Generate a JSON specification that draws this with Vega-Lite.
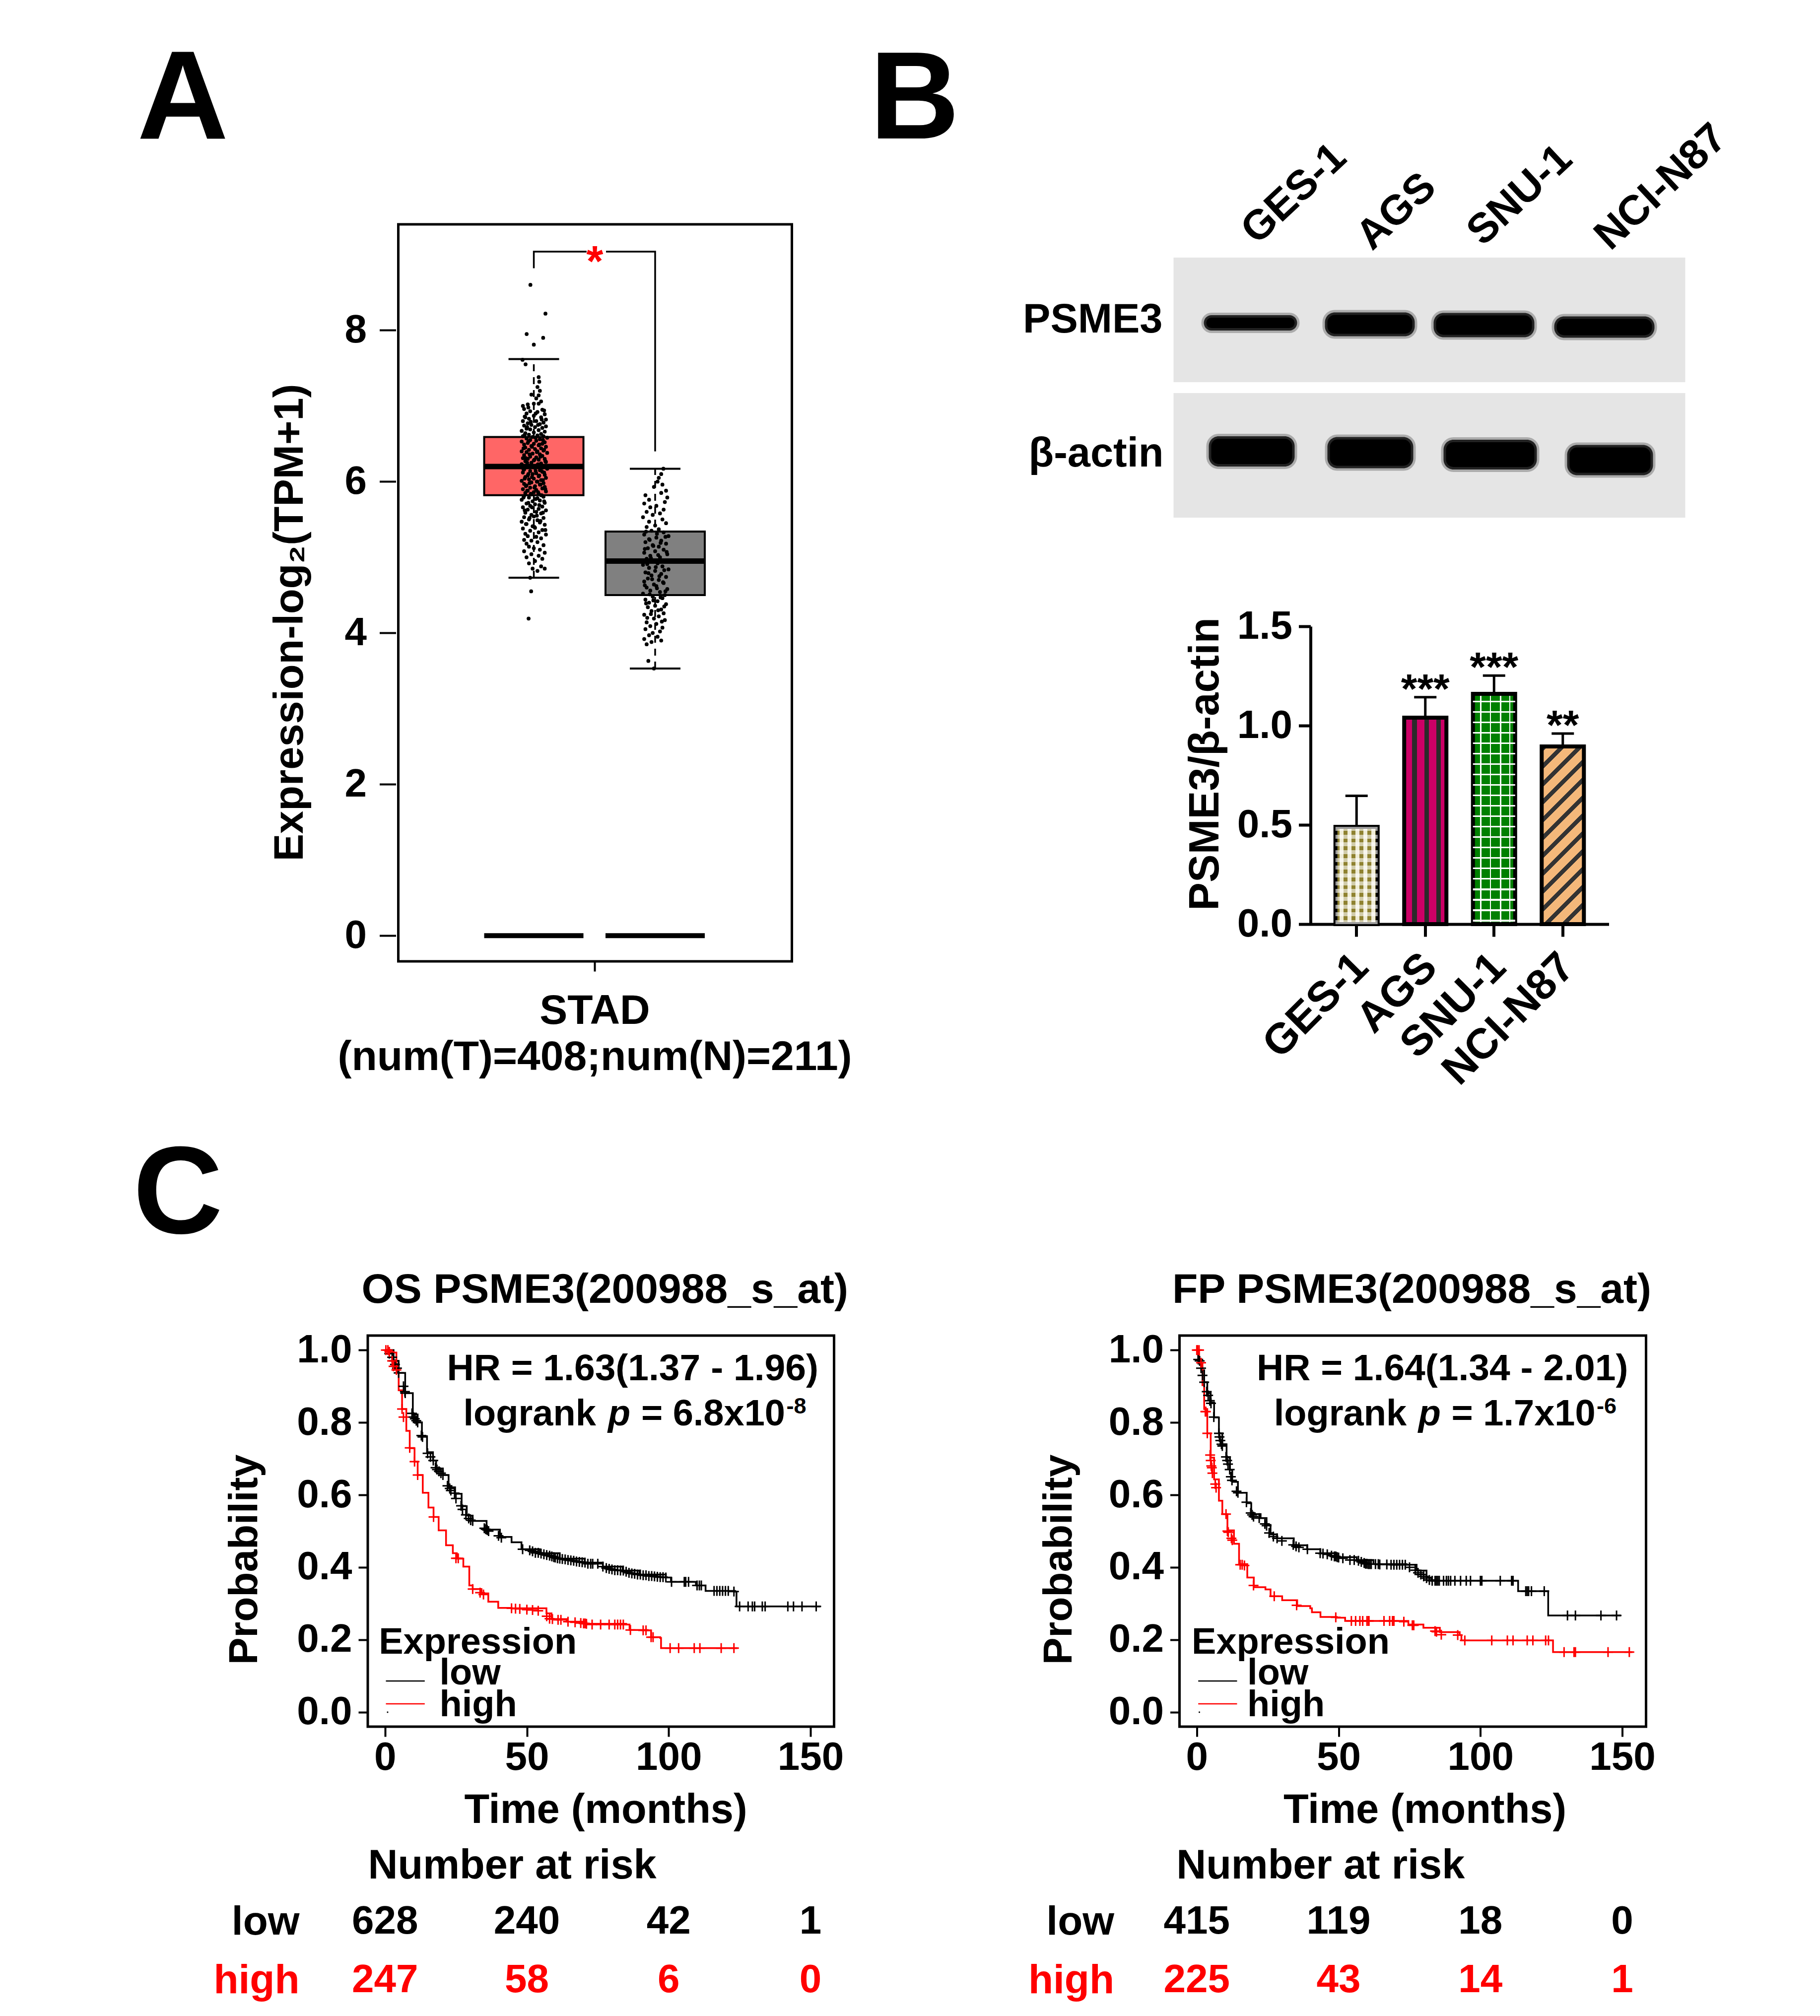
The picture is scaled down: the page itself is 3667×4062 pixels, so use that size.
{"$schema":"https://vega.github.io/schema/vega-lite/v6.json","padding":{"left":265,"top":75,"right":0,"bottom":0},"background":"white",
"config":{"font":"Liberation Sans","view":{"stroke":null},"axis":{"grid":false,"labelFont":"Liberation Sans","titleFont":"Liberation Sans","labelFontWeight":"bold","titleFontWeight":"bold","labelColor":"#000","titleColor":"#000","tickColor":"#000","domainColor":"#000","labelFontSize":80,"titleFontSize":82,"labelLimit":2000,"titleLimit":3000,"labelOverlap":false,"labelFlush":false,"labelBound":false,"titleBaseline":"alphabetic"},"text":{"fontWeight":"bold","font":"Liberation Sans","color":"#000"}},
"resolve":{"scale":{"color":"independent"}},
"datasets":{
"boxes":[{"g":"T","x":1,"lo":4.73,"q1":5.82,"med":6.2,"q3":6.59,"hi":7.62},{"g":"N","x":2,"lo":3.53,"q1":4.5,"med":4.95,"q3":5.34,"hi":6.17}],
"zeros":[{"g":"T","x":1,"v":0},{"g":"N","x":2,"v":0}],
"bracket":[{"part":"a","ord":1,"x":1,"v":8.82},{"part":"a","ord":2,"x":1,"v":9.04},{"part":"a","ord":3,"x":1.435,"v":9.04},{"part":"b","ord":1,"x":1.595,"v":9.04},{"part":"b","ord":2,"x":2,"v":9.04},{"part":"b","ord":3,"x":2,"v":6.4}],
"tumor":[{"x":0.972,"v":8.6},{"x":1.096,"v":8.22},{"x":0.941,"v":7.95},{"x":1.077,"v":7.9},{"x":1.0,"v":7.81},{"x":0.907,"v":7.61},{"x":0.932,"v":7.55},{"x":0.957,"v":4.19},{"x":0.978,"v":4.55},{"x":1.09,"v":4.85},{"x":1.04,"v":7.38},{"x":1.045,"v":7.32},{"x":1.03,"v":7.25},{"x":1.05,"v":7.2},{"x":0.98,"v":7.15},{"x":1.04,"v":7.14},{"x":1.02,"v":7.1},{"x":1.06,"v":7.06},{"x":1.0,"v":7.03},{"x":0.91,"v":7.0},{"x":1.04,"v":7.03},{"x":0.95,"v":7.02},{"x":0.92,"v":6.96},{"x":1.07,"v":6.95},{"x":0.97,"v":6.93},{"x":1.03,"v":6.92},{"x":0.94,"v":6.9},{"x":1.09,"v":6.89},{"x":1.0,"v":6.87},{"x":0.93,"v":6.85},{"x":1.06,"v":6.85},{"x":0.96,"v":6.83},{"x":1.1,"v":6.82},{"x":0.91,"v":6.8},{"x":1.02,"v":6.8},{"x":1.08,"v":6.78},{"x":0.95,"v":6.77},{"x":1.05,"v":6.76},{"x":0.98,"v":6.75},{"x":0.92,"v":6.74},{"x":1.1,"v":6.73},{"x":1.01,"v":6.72},{"x":1.07,"v":6.71},{"x":0.94,"v":6.7},{"x":0.97,"v":6.69},{"x":1.04,"v":6.68},{"x":0.9,"v":6.67},{"x":1.09,"v":6.66},{"x":1.0,"v":6.65},{"x":0.93,"v":6.64},{"x":1.06,"v":6.63},{"x":0.96,"v":6.62},{"x":1.03,"v":6.61},{"x":0.91,"v":6.6},{"x":1.08,"v":6.6},{"x":0.99,"v":6.59},{"x":1.11,"v":6.58},{"x":0.94,"v":6.57},{"x":1.05,"v":6.56},{"x":0.97,"v":6.55},{"x":1.02,"v":6.54},{"x":0.9,"v":6.53},{"x":1.09,"v":6.52},{"x":0.95,"v":6.51},{"x":1.07,"v":6.5},{"x":1.0,"v":6.5},{"x":0.92,"v":6.49},{"x":1.04,"v":6.48},{"x":0.98,"v":6.47},{"x":1.1,"v":6.46},{"x":0.93,"v":6.45},{"x":1.06,"v":6.44},{"x":1.01,"v":6.43},{"x":0.96,"v":6.42},{"x":1.08,"v":6.41},{"x":0.9,"v":6.4},{"x":1.03,"v":6.4},{"x":0.94,"v":6.39},{"x":1.11,"v":6.38},{"x":0.99,"v":6.37},{"x":1.05,"v":6.36},{"x":0.92,"v":6.35},{"x":1.07,"v":6.34},{"x":0.97,"v":6.33},{"x":1.02,"v":6.32},{"x":0.91,"v":6.31},{"x":1.09,"v":6.3},{"x":0.95,"v":6.3},{"x":1.04,"v":6.29},{"x":1.0,"v":6.28},{"x":0.93,"v":6.27},{"x":1.1,"v":6.26},{"x":0.98,"v":6.25},{"x":1.06,"v":6.24},{"x":0.9,"v":6.23},{"x":1.03,"v":6.22},{"x":0.96,"v":6.21},{"x":1.08,"v":6.2},{"x":0.94,"v":6.19},{"x":1.01,"v":6.18},{"x":1.11,"v":6.17},{"x":0.92,"v":6.16},{"x":1.05,"v":6.15},{"x":0.97,"v":6.14},{"x":1.07,"v":6.13},{"x":0.91,"v":6.12},{"x":1.02,"v":6.11},{"x":0.99,"v":6.1},{"x":1.09,"v":6.09},{"x":0.95,"v":6.08},{"x":1.04,"v":6.07},{"x":0.93,"v":6.06},{"x":1.1,"v":6.05},{"x":1.0,"v":6.04},{"x":0.96,"v":6.03},{"x":1.06,"v":6.02},{"x":0.9,"v":6.01},{"x":1.03,"v":6.0},{"x":0.98,"v":5.99},{"x":1.08,"v":5.98},{"x":0.92,"v":5.97},{"x":1.05,"v":5.96},{"x":0.94,"v":5.95},{"x":1.01,"v":5.94},{"x":1.09,"v":5.93},{"x":0.97,"v":5.92},{"x":1.07,"v":5.91},{"x":0.91,"v":5.9},{"x":1.02,"v":5.89},{"x":0.95,"v":5.88},{"x":1.1,"v":5.87},{"x":1.0,"v":5.86},{"x":0.93,"v":5.85},{"x":1.04,"v":5.84},{"x":0.98,"v":5.83},{"x":1.06,"v":5.82},{"x":0.92,"v":5.81},{"x":1.08,"v":5.8},{"x":0.96,"v":5.79},{"x":1.03,"v":5.78},{"x":0.9,"v":5.76},{"x":1.05,"v":5.75},{"x":0.99,"v":5.74},{"x":1.09,"v":5.72},{"x":0.94,"v":5.71},{"x":1.01,"v":5.7},{"x":0.97,"v":5.68},{"x":1.07,"v":5.67},{"x":0.91,"v":5.66},{"x":1.04,"v":5.64},{"x":0.95,"v":5.63},{"x":1.1,"v":5.62},{"x":1.02,"v":5.6},{"x":0.93,"v":5.59},{"x":1.06,"v":5.58},{"x":0.98,"v":5.56},{"x":1.0,"v":5.54},{"x":0.92,"v":5.53},{"x":1.08,"v":5.52},{"x":0.96,"v":5.5},{"x":1.03,"v":5.49},{"x":0.9,"v":5.47},{"x":1.05,"v":5.46},{"x":0.94,"v":5.44},{"x":1.09,"v":5.43},{"x":0.99,"v":5.41},{"x":1.01,"v":5.39},{"x":0.91,"v":5.38},{"x":1.07,"v":5.36},{"x":0.97,"v":5.35},{"x":1.04,"v":5.33},{"x":0.93,"v":5.31},{"x":1.1,"v":5.3},{"x":0.95,"v":5.28},{"x":1.02,"v":5.27},{"x":1.06,"v":5.25},{"x":0.92,"v":5.23},{"x":0.98,"v":5.22},{"x":1.03,"v":5.2},{"x":0.94,"v":5.18},{"x":1.08,"v":5.16},{"x":0.96,"v":5.14},{"x":1.0,"v":5.12},{"x":1.05,"v":5.1},{"x":0.92,"v":5.08},{"x":1.09,"v":5.06},{"x":0.98,"v":5.04},{"x":1.04,"v":5.02},{"x":0.94,"v":5.0},{"x":1.07,"v":4.98},{"x":1.01,"v":4.95},{"x":0.96,"v":4.92},{"x":1.06,"v":4.88},{"x":0.99,"v":4.85},{"x":1.03,"v":4.82},{"x":0.97,"v":4.73},{"x":0.925,"v":6.62},{"x":1.015,"v":6.58},{"x":1.075,"v":6.55},{"x":0.955,"v":6.53},{"x":1.045,"v":6.49},{"x":0.985,"v":6.46},{"x":0.915,"v":6.44},{"x":1.085,"v":6.42},{"x":1.025,"v":6.39},{"x":0.965,"v":6.36},{"x":1.055,"v":6.33},{"x":0.935,"v":6.31},{"x":1.005,"v":6.29},{"x":1.095,"v":6.27},{"x":0.945,"v":6.25},{"x":1.035,"v":6.23},{"x":0.975,"v":6.21},{"x":1.065,"v":6.18},{"x":0.915,"v":6.16},{"x":1.015,"v":6.14},{"x":1.085,"v":6.12},{"x":0.955,"v":6.1},{"x":1.045,"v":6.08},{"x":0.985,"v":6.06},{"x":0.925,"v":6.04},{"x":1.075,"v":6.02},{"x":1.025,"v":6.0},{"x":0.965,"v":5.98},{"x":1.055,"v":5.96},{"x":0.935,"v":5.94},{"x":1.005,"v":5.92},{"x":1.095,"v":5.9},{"x":0.945,"v":5.88},{"x":1.035,"v":5.86},{"x":0.975,"v":5.84},{"x":1.065,"v":5.82},{"x":0.915,"v":5.79},{"x":1.015,"v":5.77},{"x":1.085,"v":5.74},{"x":0.955,"v":5.72},{"x":1.045,"v":5.69},{"x":0.985,"v":5.66},{"x":0.925,"v":5.62},{"x":1.075,"v":5.59},{"x":1.025,"v":5.55},{"x":0.965,"v":5.52},{"x":1.055,"v":5.48},{"x":0.935,"v":5.44},{"x":1.005,"v":5.4},{"x":1.095,"v":5.36},{"x":0.945,"v":6.72},{"x":1.035,"v":6.75},{"x":0.975,"v":6.79},{"x":1.065,"v":6.82},{"x":0.925,"v":6.86},{"x":1.015,"v":6.9},{"x":1.085,"v":6.94},{"x":0.955,"v":6.98}],
"normal":[{"x":2.068,"v":6.17},{"x":1.944,"v":3.63},{"x":1.99,"v":3.53},{"x":2.05,"v":6.1},{"x":2.03,"v":6.05},{"x":2.02,"v":6.0},{"x":2.06,"v":5.96},{"x":1.99,"v":5.93},{"x":2.09,"v":5.88},{"x":2.05,"v":5.85},{"x":1.92,"v":5.82},{"x":2.1,"v":5.79},{"x":1.95,"v":5.76},{"x":2.08,"v":5.73},{"x":1.91,"v":5.71},{"x":2.01,"v":5.68},{"x":1.96,"v":5.66},{"x":2.07,"v":5.63},{"x":1.93,"v":5.6},{"x":2.04,"v":5.58},{"x":1.98,"v":5.56},{"x":1.9,"v":5.53},{"x":2.06,"v":5.5},{"x":1.95,"v":5.47},{"x":2.09,"v":5.45},{"x":2.0,"v":5.42},{"x":1.93,"v":5.4},{"x":2.03,"v":5.37},{"x":1.97,"v":5.35},{"x":2.07,"v":5.33},{"x":1.91,"v":5.3},{"x":2.11,"v":5.28},{"x":2.01,"v":5.26},{"x":1.95,"v":5.24},{"x":2.05,"v":5.22},{"x":1.92,"v":5.2},{"x":2.09,"v":5.18},{"x":1.98,"v":5.16},{"x":2.03,"v":5.14},{"x":1.94,"v":5.12},{"x":2.07,"v":5.1},{"x":2.0,"v":5.08},{"x":1.91,"v":5.06},{"x":2.1,"v":5.04},{"x":1.96,"v":5.02},{"x":2.04,"v":5.0},{"x":1.93,"v":4.98},{"x":2.08,"v":4.96},{"x":1.99,"v":4.94},{"x":2.02,"v":4.92},{"x":1.9,"v":4.9},{"x":2.06,"v":4.88},{"x":1.95,"v":4.86},{"x":2.11,"v":4.84},{"x":2.0,"v":4.82},{"x":1.92,"v":4.8},{"x":2.05,"v":4.78},{"x":1.97,"v":4.76},{"x":2.09,"v":4.74},{"x":1.94,"v":4.72},{"x":2.03,"v":4.7},{"x":1.91,"v":4.68},{"x":2.07,"v":4.66},{"x":1.99,"v":4.64},{"x":2.01,"v":4.62},{"x":1.93,"v":4.6},{"x":2.1,"v":4.58},{"x":1.96,"v":4.56},{"x":2.04,"v":4.54},{"x":1.9,"v":4.52},{"x":2.08,"v":4.5},{"x":1.98,"v":4.48},{"x":2.06,"v":4.46},{"x":1.92,"v":4.44},{"x":2.02,"v":4.42},{"x":1.95,"v":4.4},{"x":2.09,"v":4.38},{"x":2.0,"v":4.36},{"x":1.94,"v":4.34},{"x":2.05,"v":4.31},{"x":1.97,"v":4.29},{"x":2.07,"v":4.26},{"x":1.91,"v":4.24},{"x":2.03,"v":4.22},{"x":1.99,"v":4.19},{"x":2.08,"v":4.17},{"x":1.93,"v":4.14},{"x":2.01,"v":4.12},{"x":1.96,"v":4.09},{"x":2.06,"v":4.07},{"x":1.92,"v":4.05},{"x":2.04,"v":4.02},{"x":1.98,"v":4.0},{"x":1.95,"v":3.97},{"x":2.02,"v":3.95},{"x":1.91,"v":3.92},{"x":2.05,"v":3.9},{"x":1.97,"v":3.88},{"x":1.93,"v":3.85},{"x":1.925,"v":5.34},{"x":2.015,"v":5.31},{"x":2.085,"v":5.27},{"x":1.955,"v":5.23},{"x":2.045,"v":5.19},{"x":1.985,"v":5.15},{"x":1.915,"v":5.11},{"x":2.095,"v":5.07},{"x":2.025,"v":5.03},{"x":1.965,"v":4.99},{"x":2.055,"v":4.95},{"x":1.935,"v":4.91},{"x":2.005,"v":4.87},{"x":2.075,"v":4.83},{"x":1.945,"v":4.79},{"x":2.035,"v":4.75},{"x":1.975,"v":4.71},{"x":2.065,"v":4.67},{"x":1.915,"v":4.63},{"x":2.015,"v":4.59},{"x":2.085,"v":4.55},{"x":1.955,"v":4.51},{"x":2.045,"v":4.47},{"x":1.985,"v":4.43},{"x":1.925,"v":4.39},{"x":2.075,"v":4.35},{"x":2.025,"v":4.3},{"x":1.965,"v":4.25},{"x":1.935,"v":4.2},{"x":2.055,"v":4.15}],
"cells":[{"cell":"GES-1","value":0.49,"upper":0.646,"sig":""},{"cell":"AGS","value":1.04,"upper":1.143,"sig":"***"},{"cell":"SNU-1","value":1.16,"upper":1.252,"sig":"***"},{"cell":"NCI-N87","value":0.895,"upper":0.96,"sig":"**"}],
"blots":[{"target":"PSME3","x0":0,"x1":1031,"y0":2,"y1":253},{"target":"β-actin","x0":0,"x1":1031,"y0":275,"y1":526}],
"bands":[{"lane":"GES-1","target":"PSME3","x0":61,"x1":249,"y0":118,"y1":149},{"lane":"AGS","target":"PSME3","x0":305,"x1":486,"y0":112.5,"y1":160.5},{"lane":"SNU-1","target":"PSME3","x0":524,"x1":727,"y0":113.5,"y1":162.5},{"lane":"NCI-N87","target":"PSME3","x0":767,"x1":969,"y0":120.5,"y1":163.5},{"lane":"GES-1","target":"β-actin","x0":71,"x1":244,"y0":362,"y1":423},{"lane":"AGS","target":"β-actin","x0":310,"x1":483,"y0":363.5,"y1":426.5},{"lane":"SNU-1","target":"β-actin","x0":544,"x1":732,"y0":369,"y1":429},{"lane":"NCI-N87","target":"β-actin","x0":793,"x1":966,"y0":379.5,"y1":440.5}],
"lanes":[{"lane":"GES-1","x":168,"y":-22},{"lane":"AGS","x":400,"y":-10},{"lane":"SNU-1","x":623,"y":-19},{"lane":"NCI-N87","x":880,"y":-10}],
"targets":[{"target":"PSME3","x":-22,"y":128},{"target":"β-actin","x":-20,"y":398}],
"osLow":[{"t":0,"p":1},{"t":3,"p":0.97},{"t":4.8,"p":0.937},{"t":7.1,"p":0.881},{"t":9.8,"p":0.822},{"t":11.5,"p":0.8},{"t":13,"p":0.762},{"t":14.8,"p":0.718},{"t":16.9,"p":0.695},{"t":18,"p":0.673},{"t":20.4,"p":0.655},{"t":22.4,"p":0.621},{"t":24.7,"p":0.603},{"t":27,"p":0.569},{"t":28.8,"p":0.543},{"t":30.9,"p":0.528},{"t":35.8,"p":0.504},{"t":40.5,"p":0.484},{"t":44.6,"p":0.469},{"t":48.1,"p":0.45},{"t":54.6,"p":0.439},{"t":61.6,"p":0.424},{"t":70.4,"p":0.413},{"t":76.8,"p":0.402},{"t":83.8,"p":0.391},{"t":89.7,"p":0.38},{"t":99,"p":0.372},{"t":100.8,"p":0.36},{"t":109.6,"p":0.35},{"t":113,"p":0.335},{"t":123.4,"p":0.333},{"t":123.9,"p":0.292},{"t":153.5,"p":0.292}],
"osHigh":[{"t":0,"p":1},{"t":1.9,"p":0.993},{"t":4,"p":0.948},{"t":4.8,"p":0.889},{"t":6,"p":0.837},{"t":7.5,"p":0.777},{"t":8.7,"p":0.729},{"t":10.4,"p":0.692},{"t":11.5,"p":0.655},{"t":13.3,"p":0.606},{"t":15.3,"p":0.565},{"t":17.1,"p":0.539},{"t":18.9,"p":0.502},{"t":21.5,"p":0.461},{"t":23.9,"p":0.439},{"t":25.3,"p":0.424},{"t":27.6,"p":0.402},{"t":29.7,"p":0.35},{"t":30.9,"p":0.34},{"t":34,"p":0.328},{"t":36.4,"p":0.305},{"t":39.9,"p":0.288},{"t":44.6,"p":0.287},{"t":56.9,"p":0.273},{"t":58.7,"p":0.257},{"t":64,"p":0.25},{"t":71,"p":0.244},{"t":85,"p":0.242},{"t":86.2,"p":0.227},{"t":92.6,"p":0.226},{"t":93.8,"p":0.207},{"t":97,"p":0.205},{"t":97.3,"p":0.177},{"t":124.2,"p":0.177}],
"osLowC":[{"t":1.5,"p":0.99},{"t":2.5,"p":0.98},{"t":3,"p":0.97},{"t":3.5,"p":0.96},{"t":4.2,"p":0.95},{"t":4.8,"p":0.937},{"t":6.5,"p":0.9},{"t":7,"p":0.885},{"t":7.1,"p":0.881},{"t":9.5,"p":0.825},{"t":10,"p":0.815},{"t":10.5,"p":0.81},{"t":11,"p":0.805},{"t":11.5,"p":0.8},{"t":12.8,"p":0.764},{"t":13.2,"p":0.76},{"t":15,"p":0.715},{"t":16,"p":0.705},{"t":17,"p":0.695},{"t":17.8,"p":0.675},{"t":18.3,"p":0.67},{"t":19,"p":0.665},{"t":19.7,"p":0.66},{"t":20.4,"p":0.655},{"t":22,"p":0.625},{"t":22.8,"p":0.618},{"t":23.2,"p":0.612},{"t":24.5,"p":0.605},{"t":25,"p":0.59},{"t":26.8,"p":0.57},{"t":27.3,"p":0.56},{"t":28.5,"p":0.545},{"t":29.5,"p":0.535},{"t":30.2,"p":0.53},{"t":30.9,"p":0.528},{"t":35,"p":0.508},{"t":35.5,"p":0.505},{"t":36,"p":0.503},{"t":36.5,"p":0.5},{"t":40,"p":0.487},{"t":41,"p":0.482},{"t":48.5,"p":0.45},{"t":51,"p":0.447},{"t":52,"p":0.444},{"t":53,"p":0.44},{"t":54,"p":0.44},{"t":55,"p":0.438},{"t":56,"p":0.436},{"t":57,"p":0.434},{"t":58,"p":0.432},{"t":58.8,"p":0.43},{"t":59.5,"p":0.428},{"t":60,"p":0.427},{"t":60.8,"p":0.425},{"t":61.6,"p":0.424},{"t":62.5,"p":0.423},{"t":63.5,"p":0.422},{"t":64.5,"p":0.42},{"t":65.5,"p":0.419},{"t":66.5,"p":0.418},{"t":67.5,"p":0.416},{"t":68.5,"p":0.415},{"t":69.5,"p":0.414},{"t":70.5,"p":0.413},{"t":71.5,"p":0.41},{"t":72.5,"p":0.41},{"t":73.2,"p":0.41},{"t":75,"p":0.41},{"t":76.8,"p":0.402},{"t":78,"p":0.398},{"t":79,"p":0.396},{"t":80,"p":0.394},{"t":81,"p":0.392},{"t":82,"p":0.392},{"t":83,"p":0.391},{"t":84,"p":0.391},{"t":85,"p":0.388},{"t":86,"p":0.385},{"t":87,"p":0.383},{"t":88,"p":0.382},{"t":89,"p":0.38},{"t":90,"p":0.38},{"t":91,"p":0.378},{"t":92,"p":0.378},{"t":93,"p":0.376},{"t":94,"p":0.376},{"t":95,"p":0.375},{"t":96,"p":0.374},{"t":97,"p":0.373},{"t":98,"p":0.373},{"t":99,"p":0.372},{"t":101,"p":0.36},{"t":105.5,"p":0.36},{"t":106,"p":0.36},{"t":107,"p":0.36},{"t":110,"p":0.35},{"t":110.8,"p":0.35},{"t":111.5,"p":0.35},{"t":116,"p":0.335},{"t":117,"p":0.335},{"t":118,"p":0.335},{"t":119,"p":0.335},{"t":120,"p":0.335},{"t":121,"p":0.335},{"t":123,"p":0.333},{"t":125,"p":0.292},{"t":128,"p":0.292},{"t":129.5,"p":0.292},{"t":130.3,"p":0.292},{"t":133,"p":0.292},{"t":134,"p":0.292},{"t":142,"p":0.292},{"t":144,"p":0.292},{"t":147,"p":0.292},{"t":152,"p":0.292}],
"osHighC":[{"t":0.3,"p":1},{"t":1,"p":1},{"t":1.5,"p":0.995},{"t":2.5,"p":0.97},{"t":3,"p":0.955},{"t":4,"p":0.945},{"t":6,"p":0.837},{"t":6.5,"p":0.815},{"t":8.7,"p":0.73},{"t":10.4,"p":0.692},{"t":11.5,"p":0.655},{"t":17.1,"p":0.539},{"t":25,"p":0.425},{"t":25.8,"p":0.425},{"t":30.9,"p":0.34},{"t":33.5,"p":0.33},{"t":34.7,"p":0.325},{"t":44.6,"p":0.287},{"t":46,"p":0.286},{"t":47.5,"p":0.285},{"t":50,"p":0.283},{"t":52,"p":0.282},{"t":54,"p":0.28},{"t":57,"p":0.265},{"t":58,"p":0.258},{"t":59,"p":0.257},{"t":61,"p":0.255},{"t":62,"p":0.255},{"t":64.5,"p":0.25},{"t":67,"p":0.248},{"t":69,"p":0.246},{"t":70,"p":0.245},{"t":70.5,"p":0.245},{"t":71,"p":0.244},{"t":73,"p":0.242},{"t":76,"p":0.242},{"t":79,"p":0.242},{"t":81,"p":0.242},{"t":82,"p":0.242},{"t":83,"p":0.242},{"t":84,"p":0.242},{"t":86.5,"p":0.227},{"t":91,"p":0.226},{"t":92,"p":0.226},{"t":93.8,"p":0.207},{"t":94.5,"p":0.207},{"t":100.5,"p":0.177},{"t":103.5,"p":0.177},{"t":109,"p":0.177},{"t":111,"p":0.177},{"t":118.5,"p":0.177},{"t":123,"p":0.177}],
"fpLow":[{"t":0,"p":1},{"t":0.5,"p":0.974},{"t":1.6,"p":0.944},{"t":2.6,"p":0.911},{"t":3.7,"p":0.881},{"t":4.9,"p":0.855},{"t":6.1,"p":0.814},{"t":7.8,"p":0.77},{"t":9,"p":0.74},{"t":10.5,"p":0.703},{"t":11.7,"p":0.669},{"t":12.5,"p":0.636},{"t":14.5,"p":0.606},{"t":17.6,"p":0.577},{"t":19.2,"p":0.547},{"t":22.5,"p":0.536},{"t":24.6,"p":0.517},{"t":26,"p":0.491},{"t":28.3,"p":0.48},{"t":34.2,"p":0.461},{"t":38.9,"p":0.45},{"t":43.6,"p":0.439},{"t":49.4,"p":0.428},{"t":56.4,"p":0.42},{"t":62.3,"p":0.409},{"t":74,"p":0.407},{"t":77.5,"p":0.391},{"t":81,"p":0.372},{"t":82.8,"p":0.363},{"t":113.2,"p":0.363},{"t":113.3,"p":0.334},{"t":123.8,"p":0.334},{"t":123.9,"p":0.267},{"t":149.5,"p":0.267}],
"fpHigh":[{"t":0,"p":1},{"t":0.8,"p":0.963},{"t":2,"p":0.903},{"t":2.6,"p":0.837},{"t":3.7,"p":0.77},{"t":4.9,"p":0.703},{"t":6.1,"p":0.643},{"t":7.8,"p":0.584},{"t":9,"p":0.547},{"t":10.8,"p":0.502},{"t":13.1,"p":0.465},{"t":14.9,"p":0.409},{"t":17.8,"p":0.372},{"t":20.1,"p":0.345},{"t":24.2,"p":0.339},{"t":26,"p":0.32},{"t":30.1,"p":0.309},{"t":35.4,"p":0.293},{"t":40,"p":0.287},{"t":40.6,"p":0.276},{"t":43.6,"p":0.263},{"t":49.4,"p":0.261},{"t":52.3,"p":0.252},{"t":73.4,"p":0.252},{"t":74.6,"p":0.242},{"t":79.9,"p":0.233},{"t":85.7,"p":0.221},{"t":92.7,"p":0.213},{"t":93.3,"p":0.198},{"t":125.5,"p":0.198},{"t":125.6,"p":0.166},{"t":153.6,"p":0.166}],
"fpLowC":[{"t":0.5,"p":0.974},{"t":1,"p":0.97},{"t":1.5,"p":0.95},{"t":2,"p":0.93},{"t":2.6,"p":0.911},{"t":3.5,"p":0.885},{"t":4,"p":0.875},{"t":4.6,"p":0.86},{"t":5,"p":0.853},{"t":6,"p":0.815},{"t":7.8,"p":0.77},{"t":8,"p":0.76},{"t":8.3,"p":0.75},{"t":8.7,"p":0.74},{"t":9,"p":0.735},{"t":10.3,"p":0.705},{"t":10.7,"p":0.695},{"t":11,"p":0.685},{"t":11.6,"p":0.67},{"t":12,"p":0.65},{"t":12.4,"p":0.64},{"t":14,"p":0.61},{"t":14.5,"p":0.606},{"t":17.5,"p":0.58},{"t":19,"p":0.55},{"t":19.5,"p":0.545},{"t":20,"p":0.54},{"t":22,"p":0.536},{"t":24,"p":0.52},{"t":24.6,"p":0.515},{"t":25.5,"p":0.495},{"t":27,"p":0.485},{"t":28.3,"p":0.48},{"t":30,"p":0.473},{"t":34,"p":0.462},{"t":35,"p":0.458},{"t":36,"p":0.455},{"t":39,"p":0.45},{"t":43.5,"p":0.439},{"t":44.5,"p":0.438},{"t":46,"p":0.436},{"t":47.5,"p":0.432},{"t":48.5,"p":0.43},{"t":49,"p":0.43},{"t":49.5,"p":0.428},{"t":50,"p":0.427},{"t":51.5,"p":0.425},{"t":54,"p":0.42},{"t":55.5,"p":0.42},{"t":57,"p":0.418},{"t":58,"p":0.415},{"t":59,"p":0.412},{"t":59.5,"p":0.41},{"t":60,"p":0.41},{"t":60.5,"p":0.409},{"t":61,"p":0.409},{"t":61.5,"p":0.409},{"t":63,"p":0.409},{"t":64,"p":0.409},{"t":64.5,"p":0.408},{"t":67,"p":0.408},{"t":68.5,"p":0.407},{"t":69.5,"p":0.407},{"t":70.5,"p":0.407},{"t":71.5,"p":0.407},{"t":72.5,"p":0.407},{"t":73.5,"p":0.407},{"t":75,"p":0.4},{"t":77,"p":0.392},{"t":78,"p":0.385},{"t":79,"p":0.38},{"t":80,"p":0.375},{"t":81,"p":0.37},{"t":82,"p":0.365},{"t":83,"p":0.363},{"t":84,"p":0.363},{"t":84.5,"p":0.363},{"t":85,"p":0.363},{"t":85.5,"p":0.363},{"t":87,"p":0.363},{"t":88,"p":0.363},{"t":88.7,"p":0.363},{"t":89.5,"p":0.363},{"t":91,"p":0.363},{"t":93,"p":0.363},{"t":95,"p":0.363},{"t":96.5,"p":0.363},{"t":100,"p":0.363},{"t":100.5,"p":0.363},{"t":107,"p":0.363},{"t":111,"p":0.363},{"t":111.5,"p":0.363},{"t":116,"p":0.334},{"t":116.5,"p":0.334},{"t":117,"p":0.334},{"t":118,"p":0.334},{"t":122.5,"p":0.334},{"t":130.7,"p":0.267},{"t":133.5,"p":0.267},{"t":142.5,"p":0.267},{"t":148,"p":0.267}],
"fpHighC":[{"t":0,"p":1},{"t":0.3,"p":1},{"t":0.8,"p":1},{"t":1.5,"p":0.965},{"t":3,"p":0.83},{"t":3.2,"p":0.83},{"t":3.7,"p":0.77},{"t":4.7,"p":0.71},{"t":4.9,"p":0.695},{"t":5.1,"p":0.68},{"t":5.3,"p":0.675},{"t":5.5,"p":0.66},{"t":6.5,"p":0.63},{"t":6.8,"p":0.62},{"t":10.3,"p":0.547},{"t":10.8,"p":0.5},{"t":11.1,"p":0.497},{"t":12.2,"p":0.48},{"t":12.5,"p":0.475},{"t":15.3,"p":0.407},{"t":16,"p":0.407},{"t":16.8,"p":0.405},{"t":20,"p":0.35},{"t":27.3,"p":0.32},{"t":35.2,"p":0.295},{"t":49,"p":0.262},{"t":54.5,"p":0.252},{"t":56,"p":0.252},{"t":57.5,"p":0.252},{"t":58.5,"p":0.252},{"t":60,"p":0.252},{"t":60.5,"p":0.252},{"t":60.7,"p":0.252},{"t":66,"p":0.252},{"t":68,"p":0.252},{"t":69,"p":0.252},{"t":69.5,"p":0.252},{"t":73,"p":0.25},{"t":76,"p":0.24},{"t":76.5,"p":0.24},{"t":84,"p":0.224},{"t":84.5,"p":0.222},{"t":86.2,"p":0.214},{"t":92,"p":0.213},{"t":94.5,"p":0.198},{"t":104,"p":0.198},{"t":109.5,"p":0.198},{"t":111.5,"p":0.198},{"t":116.5,"p":0.198},{"t":118.5,"p":0.198},{"t":123,"p":0.198},{"t":124,"p":0.198},{"t":129.5,"p":0.166},{"t":133,"p":0.166},{"t":133.5,"p":0.166},{"t":145,"p":0.166},{"t":152.5,"p":0.166}],
"osRisk":[{"group":"low","t":0,"n":628},{"group":"low","t":50,"n":240},{"group":"low","t":100,"n":42},{"group":"low","t":150,"n":1},{"group":"high","t":0,"n":247},{"group":"high","t":50,"n":58},{"group":"high","t":100,"n":6},{"group":"high","t":150,"n":0}],
"fpRisk":[{"group":"low","t":0,"n":415},{"group":"low","t":50,"n":119},{"group":"low","t":100,"n":18},{"group":"low","t":150,"n":0},{"group":"high","t":0,"n":225},{"group":"high","t":50,"n":43},{"group":"high","t":100,"n":14},{"group":"high","t":150,"n":1}]
},
"columns":2,"spacing":{"row":0,"column":695.5},"align":"none","bounds":"flush",
"concat":[
{"width":939.5,"height":810,"data":{"values":[{}]},"layer":[
{"mark":{"type":"rect","fillOpacity":0,"stroke":"#000","strokeWidth":5},"encoding":{"x":{"datum":-0.117,"type":"quantitative","scale":{"domain":[-0.117,3.127],"range":[56.5,859.5],"nice":false,"zero":false},"axis":{"values":[1.5],"labels":false,"offset":675,"tickSize":20,"tickWidth":4,"domain":false,"title":["STAD","(num(T)=408;num(N)=211)"],"titleFontSize":84,"titleLineHeight":93,"titleY":125,"titleX":457}},"x2":{"datum":3.127},"y":{"datum":-0.34,"type":"quantitative","scale":{"domain":[-0.34,9.4],"range":[1485,0],"nice":false,"zero":false},"axis":{"values":[0,2,4,6,8],"format":"d","offset":-56.5,"tickSize":33,"tickWidth":4,"domain":false,"labelPadding":26,"title":"Expression-log₂(TPM+1)","titleFontSize":83,"titleX":-188,"titleY":802}},"y2":{"datum":9.4}}},
{"data":{"name":"boxes"},"mark":{"type":"rule","strokeDash":[14,12],"strokeWidth":3.5,"color":"#000"},"encoding":{"x":{"field":"x","type":"quantitative"},"y":{"field":"lo","type":"quantitative"},"y2":{"field":"hi"}}},
{"data":{"name":"boxes"},"mark":{"type":"bar","size":200,"orient":"vertical","stroke":"#000","strokeWidth":4},"encoding":{"x":{"field":"x","type":"quantitative"},"y":{"field":"q1","type":"quantitative"},"y2":{"field":"q3"},"color":{"field":"g","type":"nominal","scale":{"domain":["T","N"],"range":["#FF6666","#808080"]},"legend":null}}},
{"data":{"name":"boxes"},"mark":{"type":"tick","orient":"horizontal","size":200,"thickness":11,"color":"#000","opacity":1},"encoding":{"x":{"field":"x","type":"quantitative"},"y":{"field":"med","type":"quantitative"}}},
{"data":{"name":"boxes"},"mark":{"type":"tick","orient":"horizontal","size":102,"thickness":4,"color":"#000","opacity":1},"encoding":{"x":{"field":"x","type":"quantitative"},"y":{"field":"lo","type":"quantitative"}}},
{"data":{"name":"boxes"},"mark":{"type":"tick","orient":"horizontal","size":102,"thickness":4,"color":"#000","opacity":1},"encoding":{"x":{"field":"x","type":"quantitative"},"y":{"field":"hi","type":"quantitative"}}},
{"data":{"name":"zeros"},"mark":{"type":"tick","orient":"horizontal","size":200,"thickness":10,"color":"#000","opacity":1},"encoding":{"x":{"field":"x","type":"quantitative"},"y":{"field":"v","type":"quantitative"}}},
{"data":{"name":"tumor"},"mark":{"type":"point","filled":true,"size":60,"color":"#000","opacity":1},"encoding":{"x":{"field":"x","type":"quantitative"},"y":{"field":"v","type":"quantitative"}}},
{"data":{"name":"normal"},"mark":{"type":"point","filled":true,"size":60,"color":"#000","opacity":1},"encoding":{"x":{"field":"x","type":"quantitative"},"y":{"field":"v","type":"quantitative"}}},
{"data":{"name":"bracket"},"mark":{"type":"line","color":"#000","strokeWidth":3.5},"encoding":{"x":{"field":"x","type":"quantitative"},"y":{"field":"v","type":"quantitative"},"detail":{"field":"part"},"order":{"field":"ord"}}},
{"mark":{"type":"text","text":"*","fontSize":87,"color":"#f00","align":"center","baseline":"alphabetic"},"encoding":{"x":{"datum":1.503,"type":"quantitative"},"y":{"datum":8.72,"type":"quantitative"}}},
{"mark":{"type":"text","text":"A","fontSize":255,"align":"left","baseline":"alphabetic"},"encoding":{"x":{"datum":-2.27,"type":"quantitative"},"y":{"datum":10.53,"type":"quantitative"}}}
]},
{"width":940,"height":810,"data":{"values":[{}]},"layer":[
{"data":{"name":"blots"},"mark":{"type":"rect","color":"#E5E5E5"},"encoding":{"x":{"field":"x0","type":"quantitative","scale":{"domain":[12,952],"nice":false,"zero":false},"axis":null},"x2":{"field":"x1"},"y":{"field":"y0","type":"quantitative","scale":{"domain":[745,-65],"nice":false,"zero":false},"axis":null},"y2":{"field":"y1"}}},
{"data":{"name":"bands"},"mark":{"type":"rect","color":"#000","opacity":1,"cornerRadius":20,"stroke":"#555","strokeOpacity":0.4,"strokeWidth":10},"encoding":{"x":{"field":"x0","type":"quantitative"},"x2":{"field":"x1"},"y":{"field":"y0","type":"quantitative"},"y2":{"field":"y1"}}},
{"data":{"name":"lanes"},"mark":{"type":"text","fontSize":84,"angle":317,"align":"left","baseline":"alphabetic"},"encoding":{"x":{"field":"x","type":"quantitative"},"y":{"field":"y","type":"quantitative"},"text":{"field":"lane"}}},
{"data":{"name":"targets"},"mark":{"type":"text","fontSize":83,"align":"right","baseline":"middle"},"encoding":{"x":{"field":"x","type":"quantitative"},"y":{"field":"y","type":"quantitative"},"text":{"field":"target"}}},
{"mark":{"type":"text","text":"B","fontSize":250,"align":"left","baseline":"alphabetic"},"encoding":{"x":{"datum":-612,"type":"quantitative"},"y":{"datum":-238,"type":"quantitative"}}}
]},
{"width":1,"height":1,"data":{"values":[]},"mark":"rule","encoding":{}},
{"width":940,"height":600,"data":{"name":"cells"},"encoding":{"x":{"field":"cell","type":"nominal","sort":["GES-1","AGS","SNU-1","NCI-N87"],"scale":{"range":[264,865],"paddingInner":0.386,"paddingOuter":0.3625},"axis":{"title":null,"labelAngle":-45,"labelAlign":"right","labelBaseline":"top","labelPadding":18,"labelOffset":-20,"tickSize":25,"tickWidth":6,"domainWidth":6,"labelFontSize":86}},"y":{"field":"value","type":"quantitative","scale":{"domain":[0,1.5],"nice":false},"axis":{"values":[0,0.5,1,1.5],"format":".1f","offset":-264,"tickSize":24,"tickWidth":6,"domainWidth":6,"labelPadding":13,"title":"PSME3/β-actin","titleFontSize":85,"titleX":-186,"titleY":277}}},"layer":[
{"mark":{"type":"rule","color":"#000","strokeWidth":5},"encoding":{"y":{"field":"value","type":"quantitative"},"y2":{"field":"upper"}}},
{"mark":{"type":"tick","orient":"horizontal","size":45,"thickness":5,"color":"#000","opacity":1},"encoding":{"y":{"field":"upper","type":"quantitative"}}},
{"transform":[{"filter":"datum.cell=='GES-1'"}],"mark":{"type":"bar","stroke":"#000","strokeWidth":8,"fill":{"gradient":"linear","x1":0,"y1":0,"x2":1,"y2":0,"stops":[{"offset":0,"color":"#8F8230"},{"offset":0.094,"color":"#8F8230"},{"offset":0.094,"color":"#EFECD6"},{"offset":0.188,"color":"#EFECD6"},{"offset":0.188,"color":"#8F8230"},{"offset":0.282,"color":"#8F8230"},{"offset":0.282,"color":"#EFECD6"},{"offset":0.376,"color":"#EFECD6"},{"offset":0.376,"color":"#8F8230"},{"offset":0.47,"color":"#8F8230"},{"offset":0.47,"color":"#EFECD6"},{"offset":0.564,"color":"#EFECD6"},{"offset":0.564,"color":"#8F8230"},{"offset":0.658,"color":"#8F8230"},{"offset":0.658,"color":"#EFECD6"},{"offset":0.752,"color":"#EFECD6"},{"offset":0.752,"color":"#8F8230"},{"offset":0.846,"color":"#8F8230"},{"offset":0.846,"color":"#EFECD6"},{"offset":0.94,"color":"#EFECD6"},{"offset":0.94,"color":"#8F8230"},{"offset":1,"color":"#8F8230"}]}}},
{"transform":[{"filter":"datum.cell=='GES-1'"}],"mark":{"type":"bar","stroke":null,"fill":{"gradient":"linear","x1":0,"y1":0,"x2":0,"y2":1,"stops":[{"offset":0,"color":"#fff9"},{"offset":0.04,"color":"#fff9"},{"offset":0.04,"color":"#fff0"},{"offset":0.08,"color":"#fff0"},{"offset":0.08,"color":"#fff9"},{"offset":0.12,"color":"#fff9"},{"offset":0.12,"color":"#fff0"},{"offset":0.16,"color":"#fff0"},{"offset":0.16,"color":"#fff9"},{"offset":0.2,"color":"#fff9"},{"offset":0.2,"color":"#fff0"},{"offset":0.24,"color":"#fff0"},{"offset":0.24,"color":"#fff9"},{"offset":0.28,"color":"#fff9"},{"offset":0.28,"color":"#fff0"},{"offset":0.32,"color":"#fff0"},{"offset":0.32,"color":"#fff9"},{"offset":0.36,"color":"#fff9"},{"offset":0.36,"color":"#fff0"},{"offset":0.4,"color":"#fff0"},{"offset":0.4,"color":"#fff9"},{"offset":0.44,"color":"#fff9"},{"offset":0.44,"color":"#fff0"},{"offset":0.48,"color":"#fff0"},{"offset":0.48,"color":"#fff9"},{"offset":0.52,"color":"#fff9"},{"offset":0.52,"color":"#fff0"},{"offset":0.56,"color":"#fff0"},{"offset":0.56,"color":"#fff9"},{"offset":0.6,"color":"#fff9"},{"offset":0.6,"color":"#fff0"},{"offset":0.64,"color":"#fff0"},{"offset":0.64,"color":"#fff9"},{"offset":0.68,"color":"#fff9"},{"offset":0.68,"color":"#fff0"},{"offset":0.72,"color":"#fff0"},{"offset":0.72,"color":"#fff9"},{"offset":0.76,"color":"#fff9"},{"offset":0.76,"color":"#fff0"},{"offset":0.8,"color":"#fff0"},{"offset":0.8,"color":"#fff9"},{"offset":0.84,"color":"#fff9"},{"offset":0.84,"color":"#fff0"},{"offset":0.88,"color":"#fff0"},{"offset":0.88,"color":"#fff9"},{"offset":0.92,"color":"#fff9"},{"offset":0.92,"color":"#fff0"},{"offset":0.96,"color":"#fff0"},{"offset":0.96,"color":"#fff9"},{"offset":1,"color":"#fff9"}]}}},
{"transform":[{"filter":"datum.cell=='AGS'"}],"mark":{"type":"bar","stroke":"#000","strokeWidth":8,"fill":{"gradient":"linear","x1":0,"y1":0,"x2":1,"y2":0,"stops":[{"offset":0,"color":"#CC0066"},{"offset":0.19,"color":"#CC0066"},{"offset":0.19,"color":"#2A2A2A"},{"offset":0.3,"color":"#2A2A2A"},{"offset":0.3,"color":"#CC0066"},{"offset":0.475,"color":"#CC0066"},{"offset":0.475,"color":"#2A2A2A"},{"offset":0.585,"color":"#2A2A2A"},{"offset":0.585,"color":"#CC0066"},{"offset":0.76,"color":"#CC0066"},{"offset":0.76,"color":"#2A2A2A"},{"offset":0.87,"color":"#2A2A2A"},{"offset":0.87,"color":"#CC0066"},{"offset":1,"color":"#CC0066"}]}}},
{"transform":[{"filter":"datum.cell=='SNU-1'"}],"mark":{"type":"bar","stroke":"#000","strokeWidth":8,"fill":{"gradient":"linear","x1":0,"y1":0,"x2":1,"y2":0,"stops":[{"offset":0,"color":"#008000"},{"offset":0.17,"color":"#008000"},{"offset":0.17,"color":"#fff"},{"offset":0.2,"color":"#fff"},{"offset":0.2,"color":"#008000"},{"offset":0.4,"color":"#008000"},{"offset":0.4,"color":"#fff"},{"offset":0.43,"color":"#fff"},{"offset":0.43,"color":"#008000"},{"offset":0.64,"color":"#008000"},{"offset":0.64,"color":"#fff"},{"offset":0.67,"color":"#fff"},{"offset":0.67,"color":"#008000"},{"offset":0.86,"color":"#008000"},{"offset":0.86,"color":"#fff"},{"offset":0.89,"color":"#fff"},{"offset":0.89,"color":"#008000"},{"offset":1,"color":"#008000"}]}}},
{"transform":[{"filter":"datum.cell=='SNU-1'"}],"mark":{"type":"bar","stroke":null,"fill":{"gradient":"linear","x1":0,"y1":0,"x2":0,"y2":1,"stops":[{"offset":0.03,"color":"#fff0"},{"offset":0.03,"color":"#fff"},{"offset":0.037,"color":"#fff"},{"offset":0.037,"color":"#fff0"},{"offset":0.0753,"color":"#fff0"},{"offset":0.0753,"color":"#fff"},{"offset":0.0823,"color":"#fff"},{"offset":0.0823,"color":"#fff0"},{"offset":0.1206,"color":"#fff0"},{"offset":0.1206,"color":"#fff"},{"offset":0.1276,"color":"#fff"},{"offset":0.1276,"color":"#fff0"},{"offset":0.1659,"color":"#fff0"},{"offset":0.1659,"color":"#fff"},{"offset":0.1729,"color":"#fff"},{"offset":0.1729,"color":"#fff0"},{"offset":0.2112,"color":"#fff0"},{"offset":0.2112,"color":"#fff"},{"offset":0.2182,"color":"#fff"},{"offset":0.2182,"color":"#fff0"},{"offset":0.2565,"color":"#fff0"},{"offset":0.2565,"color":"#fff"},{"offset":0.2635,"color":"#fff"},{"offset":0.2635,"color":"#fff0"},{"offset":0.3018,"color":"#fff0"},{"offset":0.3018,"color":"#fff"},{"offset":0.3088,"color":"#fff"},{"offset":0.3088,"color":"#fff0"},{"offset":0.3471,"color":"#fff0"},{"offset":0.3471,"color":"#fff"},{"offset":0.3541,"color":"#fff"},{"offset":0.3541,"color":"#fff0"},{"offset":0.3924,"color":"#fff0"},{"offset":0.3924,"color":"#fff"},{"offset":0.3994,"color":"#fff"},{"offset":0.3994,"color":"#fff0"},{"offset":0.4377,"color":"#fff0"},{"offset":0.4377,"color":"#fff"},{"offset":0.4447,"color":"#fff"},{"offset":0.4447,"color":"#fff0"},{"offset":0.483,"color":"#fff0"},{"offset":0.483,"color":"#fff"},{"offset":0.49,"color":"#fff"},{"offset":0.49,"color":"#fff0"},{"offset":0.5283,"color":"#fff0"},{"offset":0.5283,"color":"#fff"},{"offset":0.5353,"color":"#fff"},{"offset":0.5353,"color":"#fff0"},{"offset":0.5736,"color":"#fff0"},{"offset":0.5736,"color":"#fff"},{"offset":0.5806,"color":"#fff"},{"offset":0.5806,"color":"#fff0"},{"offset":0.6189,"color":"#fff0"},{"offset":0.6189,"color":"#fff"},{"offset":0.6259,"color":"#fff"},{"offset":0.6259,"color":"#fff0"},{"offset":0.6642,"color":"#fff0"},{"offset":0.6642,"color":"#fff"},{"offset":0.6712,"color":"#fff"},{"offset":0.6712,"color":"#fff0"},{"offset":0.7095,"color":"#fff0"},{"offset":0.7095,"color":"#fff"},{"offset":0.7165,"color":"#fff"},{"offset":0.7165,"color":"#fff0"},{"offset":0.7548,"color":"#fff0"},{"offset":0.7548,"color":"#fff"},{"offset":0.7618,"color":"#fff"},{"offset":0.7618,"color":"#fff0"},{"offset":0.8001,"color":"#fff0"},{"offset":0.8001,"color":"#fff"},{"offset":0.8071,"color":"#fff"},{"offset":0.8071,"color":"#fff0"},{"offset":0.8454,"color":"#fff0"},{"offset":0.8454,"color":"#fff"},{"offset":0.8524,"color":"#fff"},{"offset":0.8524,"color":"#fff0"},{"offset":0.8907,"color":"#fff0"},{"offset":0.8907,"color":"#fff"},{"offset":0.8977,"color":"#fff"},{"offset":0.8977,"color":"#fff0"},{"offset":0.936,"color":"#fff0"},{"offset":0.936,"color":"#fff"},{"offset":0.943,"color":"#fff"},{"offset":0.943,"color":"#fff0"},{"offset":0.9813,"color":"#fff0"},{"offset":0.9813,"color":"#fff"},{"offset":0.9883,"color":"#fff"},{"offset":0.9883,"color":"#fff0"}]}}},
{"transform":[{"filter":"datum.cell=='NCI-N87'"}],"mark":{"type":"bar","stroke":"#000","strokeWidth":8,"fill":{"gradient":"linear","x1":0,"y1":0,"x2":0.278,"y2":1.171,"stops":[{"offset":0,"color":"#333"},{"offset":0.028,"color":"#333"},{"offset":0.028,"color":"#F4B87A"},{"offset":0.0813,"color":"#F4B87A"},{"offset":0.0813,"color":"#333"},{"offset":0.1093,"color":"#333"},{"offset":0.1093,"color":"#F4B87A"},{"offset":0.1626,"color":"#F4B87A"},{"offset":0.1626,"color":"#333"},{"offset":0.1906,"color":"#333"},{"offset":0.1906,"color":"#F4B87A"},{"offset":0.2439,"color":"#F4B87A"},{"offset":0.2439,"color":"#333"},{"offset":0.2719,"color":"#333"},{"offset":0.2719,"color":"#F4B87A"},{"offset":0.3252,"color":"#F4B87A"},{"offset":0.3252,"color":"#333"},{"offset":0.3532,"color":"#333"},{"offset":0.3532,"color":"#F4B87A"},{"offset":0.4065,"color":"#F4B87A"},{"offset":0.4065,"color":"#333"},{"offset":0.4345,"color":"#333"},{"offset":0.4345,"color":"#F4B87A"},{"offset":0.4878,"color":"#F4B87A"},{"offset":0.4878,"color":"#333"},{"offset":0.5158,"color":"#333"},{"offset":0.5158,"color":"#F4B87A"},{"offset":0.5691,"color":"#F4B87A"},{"offset":0.5691,"color":"#333"},{"offset":0.5971,"color":"#333"},{"offset":0.5971,"color":"#F4B87A"},{"offset":0.6504,"color":"#F4B87A"},{"offset":0.6504,"color":"#333"},{"offset":0.6784,"color":"#333"},{"offset":0.6784,"color":"#F4B87A"},{"offset":0.7317,"color":"#F4B87A"},{"offset":0.7317,"color":"#333"},{"offset":0.7597,"color":"#333"},{"offset":0.7597,"color":"#F4B87A"},{"offset":0.813,"color":"#F4B87A"},{"offset":0.813,"color":"#333"},{"offset":0.841,"color":"#333"},{"offset":0.841,"color":"#F4B87A"},{"offset":0.8943,"color":"#F4B87A"},{"offset":0.8943,"color":"#333"},{"offset":0.9223,"color":"#333"},{"offset":0.9223,"color":"#F4B87A"},{"offset":1,"color":"#F4B87A"}]}}},
{"mark":{"type":"text","fontSize":84,"baseline":"alphabetic","dy":12},"encoding":{"y":{"field":"upper","type":"quantitative"},"text":{"field":"sig"}}}
]},
{"width":1,"height":829,"data":{"values":[]},"mark":"rule","encoding":{}},
{"width":1,"height":1,"data":{"values":[]},"mark":"rule","encoding":{}},
{"width":939.5,"height":788,"data":{"values":[{}]},"view":{"stroke":"#000","strokeWidth":5},"layer":[
{"data":{"name":"osLow"},"mark":{"type":"line","interpolate":"step-after","color":"#000","strokeWidth":3.5},"encoding":{"x":{"field":"t","type":"quantitative","scale":{"domain":[-6.09,158.3],"nice":false,"zero":false},"axis":{"values":[0,50,100,150],"tickSize":20,"tickWidth":4,"domain":false,"labelPadding":3,"title":"Time (months)","titleFontSize":83,"titleX":479,"titleY":193}},"y":{"field":"p","type":"quantitative","scale":{"domain":[-0.04,1.04],"nice":false,"zero":false},"axis":{"values":[0,0.2,0.4,0.6,0.8,1],"format":".1f","tickSize":19,"tickWidth":4,"domain":false,"labelPadding":13,"title":"Probability","titleFontSize":82,"titleX":-224,"titleY":451}}}},
{"data":{"name":"osHigh"},"mark":{"type":"line","interpolate":"step-after","color":"#f00","strokeWidth":3.5},"encoding":{"x":{"field":"t","type":"quantitative"},"y":{"field":"p","type":"quantitative"}}},
{"data":{"name":"osLowC"},"mark":{"type":"point","shape":"M-1,0H1M0,-1V1","size":400,"filled":false,"color":"#000","strokeWidth":3,"opacity":1},"encoding":{"x":{"field":"t","type":"quantitative"},"y":{"field":"p","type":"quantitative"}}},
{"data":{"name":"osHighC"},"mark":{"type":"point","shape":"M-1,0H1M0,-1V1","size":400,"filled":false,"color":"#f00","strokeWidth":3,"opacity":1},"encoding":{"x":{"field":"t","type":"quantitative"},"y":{"field":"p","type":"quantitative"}}},
{"mark":{"type":"rule","color":"#000","strokeWidth":2.5},"encoding":{"x":{"datum":0.3,"type":"quantitative"},"x2":{"datum":14},"y":{"datum":0.086,"type":"quantitative"}}},
{"mark":{"type":"rule","color":"#f00","strokeWidth":2.5},"encoding":{"x":{"datum":0.3,"type":"quantitative"},"x2":{"datum":14},"y":{"datum":0.023,"type":"quantitative"}}},
{"mark":{"type":"point","filled":true,"size":10,"color":"#000","opacity":1},"encoding":{"x":{"datum":0.9,"type":"quantitative"},"y":{"datum":0,"type":"quantitative"}}},
{"mark":{"type":"text","text":"OS PSME3(200988_s_at)","fontSize":84,"align":"center","baseline":"alphabetic"},"encoding":{"x":{"datum":77.5,"type":"quantitative"},"y":{"datum":1.131,"type":"quantitative"}}},
{"mark":{"type":"text","text":"Expression","fontSize":74,"align":"left","baseline":"alphabetic"},"encoding":{"x":{"datum":-2.2,"type":"quantitative"},"y":{"datum":0.162,"type":"quantitative"}}},
{"mark":{"type":"text","text":"low","fontSize":74,"align":"left","baseline":"alphabetic"},"encoding":{"x":{"datum":19.2,"type":"quantitative"},"y":{"datum":0.077,"type":"quantitative"}}},
{"mark":{"type":"text","text":"high","fontSize":74,"align":"left","baseline":"alphabetic"},"encoding":{"x":{"datum":19.2,"type":"quantitative"},"y":{"datum":-0.011,"type":"quantitative"}}},
{"mark":{"type":"text","text":"HR = 1.63(1.37 - 1.96)","fontSize":75,"align":"center","baseline":"alphabetic"},"encoding":{"x":{"datum":87.3,"type":"quantitative"},"y":{"datum":0.916,"type":"quantitative"}}},
{"mark":{"type":"text","text":"logrank","fontSize":74,"align":"left","baseline":"alphabetic"},"encoding":{"x":{"datum":27.6,"type":"quantitative"},"y":{"datum":0.792,"type":"quantitative"}}},
{"mark":{"type":"text","text":"p","fontSize":74,"fontStyle":"italic","align":"left","baseline":"alphabetic"},"encoding":{"x":{"datum":78.6,"type":"quantitative"},"y":{"datum":0.792,"type":"quantitative"}}},
{"mark":{"type":"text","text":"= 6.8x10","fontSize":74,"align":"left","baseline":"alphabetic"},"encoding":{"x":{"datum":90.3,"type":"quantitative"},"y":{"datum":0.792,"type":"quantitative"}}},
{"mark":{"type":"text","text":"-8","fontSize":45,"align":"left","baseline":"alphabetic"},"encoding":{"x":{"datum":141.5,"type":"quantitative"},"y":{"datum":0.825,"type":"quantitative"}}},
{"mark":{"type":"text","text":"Number at risk","fontSize":83,"align":"left","baseline":"alphabetic"},"encoding":{"x":{"datum":-6,"type":"quantitative"},"y":{"datum":-0.459,"type":"quantitative"}}},
{"mark":{"type":"text","text":"C","fontSize":250,"align":"left","baseline":"alphabetic"},"encoding":{"x":{"datum":-88.8,"type":"quantitative"},"y":{"datum":1.3226,"type":"quantitative"}}}
]},
{"width":940,"height":788,"data":{"values":[{}]},"view":{"stroke":"#000","strokeWidth":5},"layer":[
{"data":{"name":"fpLow"},"mark":{"type":"line","interpolate":"step-after","color":"#000","strokeWidth":3.5},"encoding":{"x":{"field":"t","type":"quantitative","scale":{"domain":[-6.1,158.4],"nice":false,"zero":false},"axis":{"values":[0,50,100,150],"tickSize":20,"tickWidth":4,"domain":false,"labelPadding":3,"title":"Time (months)","titleFontSize":83,"titleX":494,"titleY":193}},"y":{"field":"p","type":"quantitative","scale":{"domain":[-0.04,1.04],"nice":false,"zero":false},"axis":{"values":[0,0.2,0.4,0.6,0.8,1],"format":".1f","tickSize":19,"tickWidth":4,"domain":false,"labelPadding":13,"title":"Probability","titleFontSize":82,"titleX":-218,"titleY":451}}}},
{"data":{"name":"fpHigh"},"mark":{"type":"line","interpolate":"step-after","color":"#f00","strokeWidth":3.5},"encoding":{"x":{"field":"t","type":"quantitative"},"y":{"field":"p","type":"quantitative"}}},
{"data":{"name":"fpLowC"},"mark":{"type":"point","shape":"M-1,0H1M0,-1V1","size":400,"filled":false,"color":"#000","strokeWidth":3,"opacity":1},"encoding":{"x":{"field":"t","type":"quantitative"},"y":{"field":"p","type":"quantitative"}}},
{"data":{"name":"fpHighC"},"mark":{"type":"point","shape":"M-1,0H1M0,-1V1","size":400,"filled":false,"color":"#f00","strokeWidth":3,"opacity":1},"encoding":{"x":{"field":"t","type":"quantitative"},"y":{"field":"p","type":"quantitative"}}},
{"mark":{"type":"rule","color":"#000","strokeWidth":2.5},"encoding":{"x":{"datum":0.5,"type":"quantitative"},"x2":{"datum":14.2},"y":{"datum":0.086,"type":"quantitative"}}},
{"mark":{"type":"rule","color":"#f00","strokeWidth":2.5},"encoding":{"x":{"datum":0.5,"type":"quantitative"},"x2":{"datum":14.2},"y":{"datum":0.023,"type":"quantitative"}}},
{"mark":{"type":"point","filled":true,"size":10,"color":"#000","opacity":1},"encoding":{"x":{"datum":0.9,"type":"quantitative"},"y":{"datum":0,"type":"quantitative"}}},
{"mark":{"type":"text","text":"FP PSME3(200988_s_at)","fontSize":84,"align":"center","baseline":"alphabetic"},"encoding":{"x":{"datum":75.8,"type":"quantitative"},"y":{"datum":1.131,"type":"quantitative"}}},
{"mark":{"type":"text","text":"Expression","fontSize":74,"align":"left","baseline":"alphabetic"},"encoding":{"x":{"datum":-1.8,"type":"quantitative"},"y":{"datum":0.162,"type":"quantitative"}}},
{"mark":{"type":"text","text":"low","fontSize":74,"align":"left","baseline":"alphabetic"},"encoding":{"x":{"datum":17.8,"type":"quantitative"},"y":{"datum":0.077,"type":"quantitative"}}},
{"mark":{"type":"text","text":"high","fontSize":74,"align":"left","baseline":"alphabetic"},"encoding":{"x":{"datum":17.8,"type":"quantitative"},"y":{"datum":-0.011,"type":"quantitative"}}},
{"mark":{"type":"text","text":"HR = 1.64(1.34 - 2.01)","fontSize":75,"align":"center","baseline":"alphabetic"},"encoding":{"x":{"datum":86.6,"type":"quantitative"},"y":{"datum":0.916,"type":"quantitative"}}},
{"mark":{"type":"text","text":"logrank","fontSize":74,"align":"left","baseline":"alphabetic"},"encoding":{"x":{"datum":27.2,"type":"quantitative"},"y":{"datum":0.792,"type":"quantitative"}}},
{"mark":{"type":"text","text":"p","fontSize":74,"fontStyle":"italic","align":"left","baseline":"alphabetic"},"encoding":{"x":{"datum":78.1,"type":"quantitative"},"y":{"datum":0.792,"type":"quantitative"}}},
{"mark":{"type":"text","text":"= 1.7x10","fontSize":74,"align":"left","baseline":"alphabetic"},"encoding":{"x":{"datum":89.8,"type":"quantitative"},"y":{"datum":0.792,"type":"quantitative"}}},
{"mark":{"type":"text","text":"-6","fontSize":45,"align":"left","baseline":"alphabetic"},"encoding":{"x":{"datum":141,"type":"quantitative"},"y":{"datum":0.825,"type":"quantitative"}}},
{"mark":{"type":"text","text":"Number at risk","fontSize":83,"align":"left","baseline":"alphabetic"},"encoding":{"x":{"datum":-7.2,"type":"quantitative"},"y":{"datum":-0.459,"type":"quantitative"}}}
]},
{"width":939.5,"height":560,"data":{"name":"osRisk"},"mark":{"type":"text","fontSize":80,"baseline":"middle"},"encoding":{"x":{"field":"t","type":"quantitative","scale":{"domain":[-6.09,158.3],"nice":false,"zero":false},"axis":null},"y":{"field":"group","type":"nominal","scale":{"domain":["low","high"],"range":[393,511],"padding":0},"axis":{"title":null,"ticks":false,"domain":false,"labelPadding":138,"labelFontSize":82,"labelColor":{"condition":{"test":"datum.value=='high'","value":"#f00"},"value":"#000"}}},"text":{"field":"n","type":"quantitative"},"color":{"field":"group","type":"nominal","scale":{"domain":["low","high"],"range":["#000","#f00"]},"legend":null}}},
{"width":940,"height":560,"data":{"name":"fpRisk"},"mark":{"type":"text","fontSize":80,"baseline":"middle"},"encoding":{"x":{"field":"t","type":"quantitative","scale":{"domain":[-6.1,158.4],"nice":false,"zero":false},"axis":null},"y":{"field":"group","type":"nominal","scale":{"domain":["low","high"],"range":[393,511],"padding":0},"axis":{"title":null,"ticks":false,"domain":false,"labelPadding":132,"labelFontSize":82,"labelColor":{"condition":{"test":"datum.value=='high'","value":"#f00"},"value":"#000"}}},"text":{"field":"n","type":"quantitative"},"color":{"field":"group","type":"nominal","scale":{"domain":["low","high"],"range":["#000","#f00"]},"legend":null}}}
]}
